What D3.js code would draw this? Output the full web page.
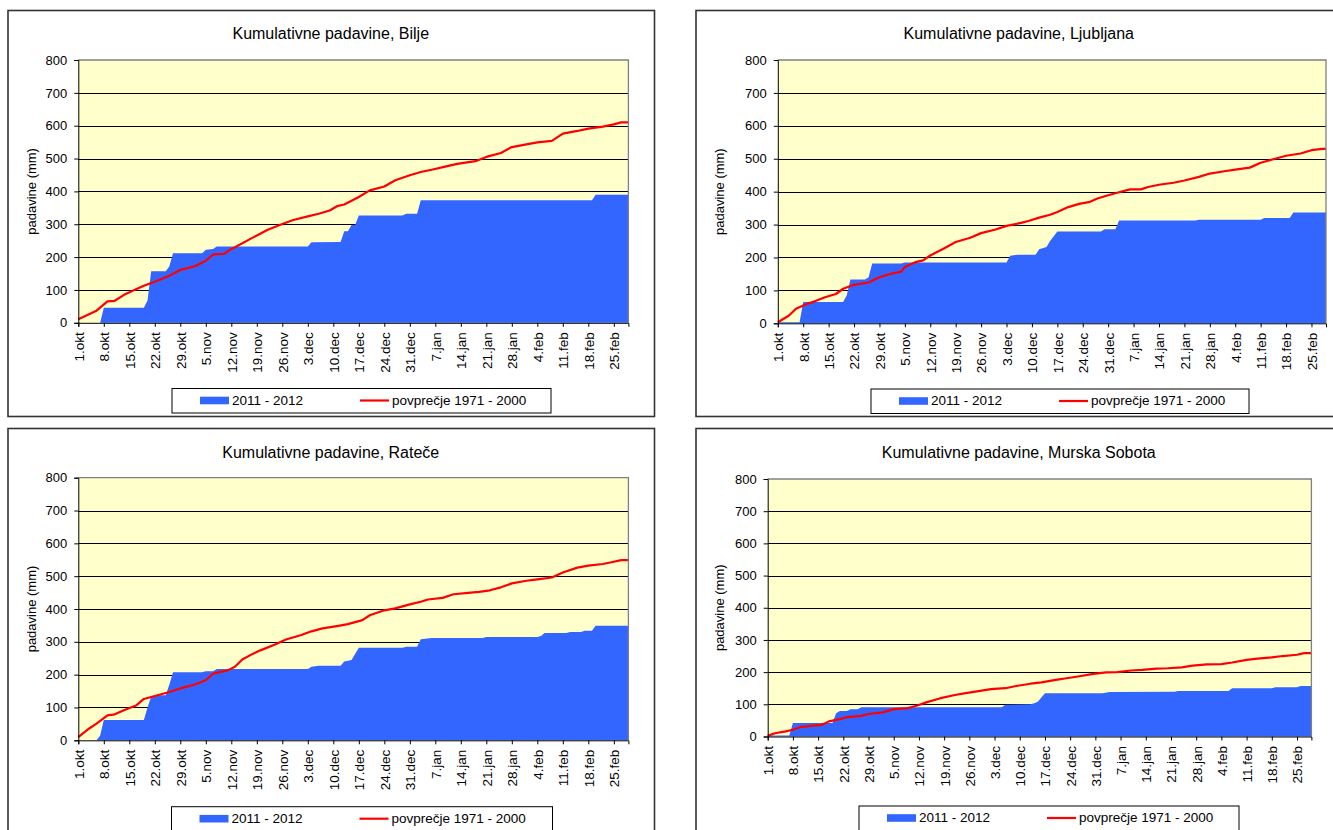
<!DOCTYPE html>
<html><head><meta charset="utf-8">
<script src="https://cdn.jsdelivr.net/npm/d3@7"></script>
<style>
body{margin:0;background:#fff;overflow:hidden;}
text{font-family:"Liberation Sans",Arial,sans-serif;fill:#000;}
</style>
</head><body>
<svg id="c" width="1333" height="830"></svg>
<script>
// ---------- DATA ----------
const xTickLabels = ["1.okt","8.okt","15.okt","22.okt","29.okt","5.nov","12.nov","19.nov","26.nov","3.dec","10.dec","17.dec","24.dec","31.dec","7.jan","14.jan","21.jan","28.jan","4.feb","11.feb","18.feb","25.feb"];
const xTickDays = [0,7,14,21,28,35,42,49,56,63,70,77,84,91,98,105,112,119,126,133,140,147];
const lastDay = 151; // 1.okt 2011 .. 29.feb 2012
const yTicks = [0,100,200,300,400,500,600,700,800];
const seriesNames = ["2011 - 2012","povprečje 1971 - 2000"];

// [day index from 1.okt, cumulative mm]
const biljeObs = [[0,0],[6,0],[7,46],[18,46],[19,68],[20,157],[24,157],[25,172],[26,212],[34,212],[35,222],[37,225],[38,232],[63,232],[64,245],[72,246],[73,279],[74,279],[75,298],[76,298],[77,327],[89,327],[90,332],[93,332],[94,373],[141,373],[142,390],[151,390]];
const biljeAvg = [[0,11],[5,37],[8,65],[10,67],[13,88],[16,103],[18,113],[21,125],[25,143],[28,161],[32,172],[35,189],[37,208],[40,210],[42,225],[43,230],[48,260],[52,283],[56,301],[59,313],[63,324],[66,332],[69,342],[71,355],[73,360],[77,383],[80,403],[84,415],[87,434],[91,449],[94,459],[97,466],[101,476],[104,484],[109,492],[112,505],[116,517],[119,535],[123,543],[126,549],[130,554],[133,576],[137,584],[140,591],[144,597],[147,604],[149,610],[151,610]];

const ljubljanaObs = [[0,3],[6,3],[7,65],[18,65],[19,85],[20,133],[24,133],[25,140],[26,182],[34,182],[35,185],[63,185],[64,205],[66,208],[71,208],[72,225],[74,232],[75,250],[77,279],[89,279],[90,286],[93,286],[94,312],[115,312],[116,315],[133,315],[134,320],[141,320],[142,337],[151,337]];
const ljubljanaAvg = [[0,3],[3,23],[5,44],[8,59],[10,66],[13,79],[16,89],[18,105],[21,117],[25,124],[28,140],[31,150],[34,157],[35,171],[38,186],[40,191],[42,206],[46,229],[49,247],[53,260],[56,274],[60,285],[63,296],[67,305],[69,311],[72,321],[75,330],[77,338],[80,353],[83,363],[86,369],[88,379],[91,389],[94,398],[97,407],[100,407],[102,414],[105,421],[109,427],[112,434],[116,445],[119,455],[123,462],[126,467],[130,473],[133,488],[137,500],[140,509],[144,516],[147,526],[150,530],[151,530]];

const rateceObs = [[0,0],[5,0],[6,15],[7,62],[18,62],[19,100],[20,133],[21,137],[24,137],[25,170],[26,207],[34,207],[35,210],[37,210],[38,217],[63,217],[64,224],[66,227],[72,227],[73,240],[75,245],[77,282],[89,282],[90,285],[93,285],[94,308],[97,312],[111,312],[112,315],[126,315],[127,318],[128,327],[134,327],[135,330],[138,330],[139,334],[141,334],[142,349],[151,349]];
const rateceAvg = [[0,10],[3,36],[5,51],[8,76],[10,79],[13,94],[16,107],[18,126],[21,135],[25,147],[28,158],[32,170],[35,183],[37,203],[41,213],[43,224],[45,246],[48,264],[50,274],[54,292],[57,307],[61,320],[64,332],[67,341],[71,348],[74,354],[78,366],[80,381],[84,396],[87,402],[91,414],[94,422],[96,429],[100,434],[103,445],[107,449],[110,452],[113,457],[116,466],[119,478],[123,486],[126,490],[130,496],[133,511],[137,526],[140,532],[144,537],[147,544],[149,549],[151,549]];

const murskaObs = [[0,3],[6,3],[7,42],[18,42],[19,72],[20,79],[22,79],[23,85],[25,85],[26,91],[65,91],[66,99],[73,100],[74,103],[75,108],[77,134],[93,134],[95,138],[113,139],[114,141],[128,141],[129,150],[140,150],[141,153],[147,153],[148,157],[151,157]];
const murskaAvg = [[0,2],[2,10],[5,16],[7,21],[9,29],[12,33],[15,36],[17,47],[20,54],[22,60],[26,64],[28,70],[32,75],[35,85],[39,88],[42,98],[44,106],[48,119],[52,129],[55,135],[59,142],[62,147],[66,150],[69,157],[73,164],[76,168],[80,176],[83,181],[87,188],[90,194],[94,199],[97,200],[101,205],[104,207],[108,211],[111,212],[115,215],[118,220],[122,224],[126,225],[129,230],[133,238],[136,242],[140,246],[143,250],[147,254],[149,259],[151,259]];

// ---------- LAYOUT ----------
const panels = [
  {title:"Kumulativne padavine, Bilje", obs:biljeObs, avg:biljeAvg,
   frame:[8,10.5,646.5,406], plot:[78.3,60,628.4,322.8], legend:[172,388.5,379,24.5], ylab:36, titleY:38.5},
  {title:"Kumulativne padavine, Ljubljana", obs:ljubljanaObs, avg:ljubljanaAvg,
   frame:[696,10.5,646.5,406], plot:[777.8,60,1326,323.3], legend:[871,389,378,24.5], ylab:724, titleY:38.5},
  {title:"Kumulativne padavine, Rateče", obs:rateceObs, avg:rateceAvg,
   frame:[8,428.5,646.5,420], plot:[78.3,477.7,628.4,740.3], legend:[171.5,806.7,381,30], ylab:36, titleY:457.5},
  {title:"Kumulativne padavine, Murska Sobota", obs:murskaObs, avg:murskaAvg,
   frame:[696,428.5,646.5,420], plot:[767.7,479,1311.4,736.5], legend:[859,806,380,30], ylab:724, titleY:457.5}
];

const BLUE = "#3366FF", RED = "#FF0000", BG = "#FFFFCC";
const svg = d3.select("#c");

panels.forEach(p => {
  const g = svg.append("g");
  const [fx,fy,fw,fh] = p.frame;
  g.append("rect").attr("x",fx).attr("y",fy).attr("width",fw).attr("height",fh)
    .attr("fill","#fff").attr("stroke","#333").attr("stroke-width",1.6);

  const [x0,y0,x1,y1] = p.plot;
  const x = d3.scaleLinear().domain([0,lastDay]).range([x0,x1]);
  const y = d3.scaleLinear().domain([0,800]).range([y1,y0]);

  // title
  g.append("text").attr("x",fx+fw/2 - 0.5).attr("y",p.titleY).attr("text-anchor","middle")
    .style("font-size","16px").text(p.title);

  // plot background
  g.append("rect").attr("x",x0).attr("y",y0).attr("width",x1-x0).attr("height",y1-y0).attr("fill",BG);

  // gridlines
  g.append("g").selectAll("line").data(yTicks.filter(v=>v>0 && v<800)).join("line")
    .attr("x1",x0).attr("x2",x1).attr("y1",d=>Math.round(y(d))+0.5).attr("y2",d=>Math.round(y(d))+0.5)
    .attr("stroke","#000").attr("stroke-width",1);

  // observed area
  const area = d3.area().x(d=>x(d[0])).y0(y(0)).y1(d=>y(d[1]));
  g.append("path").datum(p.obs).attr("d",area).attr("fill",BLUE);

  // average line
  const line = d3.line().x(d=>x(d[0])).y(d=>y(d[1]));
  g.append("path").datum(p.avg).attr("d",line).attr("fill","none")
    .attr("stroke",RED).attr("stroke-width",2.2).attr("stroke-linejoin","round");

  // plot border (top/right grey)
  g.append("path").attr("d",`M${x0},${y0}H${x1}V${y1}`).attr("fill","none").attr("stroke","#808080").attr("stroke-width",1.3);

  // y axis
  const ya = d3.axisLeft(y).tickValues(yTicks).tickSize(4).tickPadding(7);
  const yg = g.append("g").attr("transform",`translate(${x0},0)`).call(ya);
  yg.select(".domain").attr("stroke","#000");
  yg.selectAll(".tick line").attr("stroke","#000");
  yg.selectAll("text").style("font-size","13px").attr("fill","#000").style("font-family",'"Liberation Sans",Arial,sans-serif');

  // x axis
  const xa = d3.axisBottom(x).tickValues(xTickDays).tickSize(4).tickFormat((d,i)=>xTickLabels[i]);
  const xg = g.append("g").attr("transform",`translate(0,${y1})`).call(xa);
  xg.select(".domain").attr("stroke","#000");
  xg.selectAll(".tick line").attr("stroke","#000");
  xg.selectAll("text").style("font-size","13.5px").attr("fill","#000")
    .style("font-family",'"Liberation Sans",Arial,sans-serif')
    .attr("transform","rotate(-90)").attr("text-anchor","end")
    .attr("x",-9.5).attr("y",0).attr("dy","0.36em");

  // y label
  g.append("text").attr("transform",`translate(${p.ylab},${(y0+y1)/2}) rotate(-90)`)
    .attr("text-anchor","middle").style("font-size","13px").text("padavine (mm)");

  // legend
  const [lx,ly,lw,lh] = p.legend;
  g.append("rect").attr("x",lx).attr("y",ly).attr("width",lw).attr("height",lh)
    .attr("fill","#fff").attr("stroke","#000").attr("stroke-width",1);
  g.append("rect").attr("x",lx+28).attr("y",ly+8.2).attr("width",29).attr("height",7.6).attr("fill",BLUE);
  g.append("text").attr("x",lx+60).attr("y",ly+16.3).style("font-size","13.5px").text(seriesNames[0]);
  g.append("line").attr("x1",lx+188).attr("x2",lx+217).attr("y1",ly+12).attr("y2",ly+12)
    .attr("stroke",RED).attr("stroke-width",2.2);
  g.append("text").attr("x",lx+220).attr("y",ly+16.3).style("font-size","13.5px").text(seriesNames[1]);
});
</script>
</body></html>
